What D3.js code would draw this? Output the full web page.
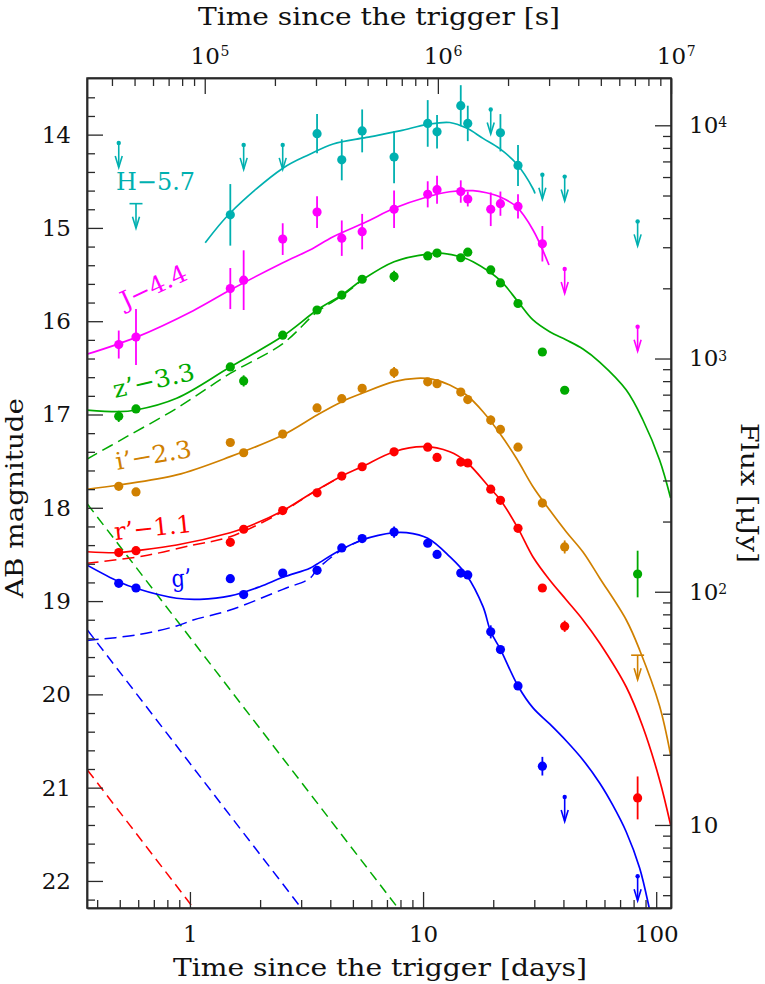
<!DOCTYPE html>
<html><head><meta charset="utf-8">
<script src="https://cdn.jsdelivr.net/npm/d3@7"></script>
<style>body{margin:0;background:#fff}</style>
</head><body><svg id="c" width="765" height="984"></svg>
<script>
// ---------------- DATA ----------------
// observed points: [days, AB mag, error]
const H_obs = [[1.49,14.86,0.33],[3.51,13.99,0.21],[4.48,14.27,0.22],[5.48,13.96,0.23],[7.51,14.24,0.28],[10.47,13.88,0.25],[11.48,13.97,0.18],[14.51,13.69,0.22],[15.55,13.88,0.19],[21.47,13.98,0.20],[25.54,14.33,0.22]];
const J_obs = [[0.495,16.25,0.15],[0.587,16.17,0.30],[1.49,15.65,0.22],[1.70,15.56,0.32],[2.50,15.12,0.17],[3.51,14.83,0.17],[4.48,15.11,0.19],[5.48,15.04,0.19],[7.51,14.80,0.20],[10.47,14.64,0.14],[11.48,14.59,0.15],[14.51,14.61,0.12],[15.55,14.69,0.08],[19.51,14.80,0.18],[21.47,14.74,0.13],[25.54,14.77,0.13],[32.49,15.17,0.19]];
const z_obs = [[0.495,17.02,0.06],[0.587,16.94,0.03],[1.49,16.49,0.03],[1.70,16.64,0.06],[2.50,16.15,0.03],[3.51,15.88,0.03],[4.48,15.72,0.03],[5.48,15.55,0.03],[7.51,15.52,0.06],[10.47,15.30,0.03],[11.48,15.27,0.03],[14.51,15.32,0.03],[15.55,15.26,0.03],[19.51,15.45,0.03],[21.47,15.59,0.03],[25.54,15.81,0.03],[32.49,16.33,0.03],[40.5,16.74,0.03],[83.24,18.71,0.25]];
const i_obs = [[0.495,17.77,0.04],[0.587,17.83,0.03],[1.49,17.30,0.03],[1.70,17.41,0.03],[2.50,17.21,0.03],[3.51,16.93,0.03],[4.48,16.83,0.03],[5.48,16.72,0.03],[7.51,16.55,0.06],[10.47,16.65,0.03],[11.48,16.67,0.03],[14.51,16.76,0.03],[15.55,16.84,0.03],[19.51,17.06,0.05],[21.47,17.16,0.03],[25.54,17.35,0.03],[32.49,17.95,0.03],[40.5,18.42,0.07]];
const r_obs = [[0.495,18.48,0.03],[0.587,18.46,0.03],[1.49,18.37,0.03],[1.70,18.23,0.03],[2.50,18.03,0.03],[3.51,17.84,0.03],[4.48,17.66,0.03],[5.48,17.56,0.03],[7.51,17.40,0.03],[10.47,17.35,0.03],[11.48,17.46,0.03],[14.51,17.51,0.03],[15.55,17.52,0.03],[19.51,17.80,0.03],[21.47,17.92,0.03],[25.54,18.22,0.03],[32.49,18.86,0.03],[40.5,19.27,0.06],[83.24,21.11,0.23]];
const g_obs = [[0.495,18.81,0.03],[0.587,18.86,0.03],[1.49,18.76,0.03],[1.70,18.93,0.03],[2.50,18.70,0.03],[3.51,18.67,0.03],[4.48,18.43,0.03],[5.48,18.33,0.03],[7.51,18.26,0.06],[10.47,18.38,0.03],[11.48,18.50,0.03],[14.51,18.70,0.04],[15.55,18.72,0.03],[19.51,19.33,0.07],[21.47,19.52,0.03],[25.54,19.91,0.04],[32.49,20.77,0.10]];

// upper limits: [days, AB mag, style (0 = dot, 1 = bar)]
const H_lim = [[0.495,14.09,0],[0.587,14.74,1],[1.70,14.11,0],[2.50,14.11,0],[19.51,13.73,0],[32.49,14.43,0],[40.5,14.45,0],[83.24,14.93,0]];
const J_lim = [[40.5,15.44,0],[83.24,16.06,0]];
const z_lim = [];
const i_lim = [[83.24,19.58,1]];
const r_lim = [];
const g_lim = [[40.5,21.10,0],[83.24,21.95,0]];

// model curves: [days, AB mag]
const H_fit = [[1.163,15.16],[1.488,14.84],[2.504,14.36],[3.268,14.21],[4.114,14.10],[5.719,14.03],[7.946,13.96],[10.47,13.89],[13.02,13.87],[15.35,13.93],[18.08,14.04],[21.32,14.15],[25.14,14.31],[29.62,14.58],[30.21,14.63]];
const J_fit = [[0.3607,16.355],[0.5868,16.173],[1.033,15.887],[1.488,15.666],[2.504,15.373],[3.268,15.237],[4.114,15.094],[5.719,14.934],[7.511,14.790],[10.47,14.666],[13.02,14.612],[16.38,14.601],[18.70,14.623],[21.32,14.666],[25.14,14.773],[29.62,15.022],[34.68,15.398]];
const z_fit = [[0.3607,16.952],[0.4948,16.970],[0.5868,16.952],[0.877,16.826],[1.488,16.491],[2.504,16.159],[3.513,15.880],[4.482,15.719],[5.476,15.558],[7.511,15.362],[10.47,15.280],[12.18,15.272],[14.51,15.309],[16.38,15.362],[21.32,15.558],[25.54,15.791],[29.62,15.987],[34.92,16.113],[41.18,16.201],[48.52,16.298],[57.20,16.438],[74.42,16.738],[87.70,17.059],[103.4,17.488],[115.3,17.895]];
const i_fit = [[0.3607,17.802],[0.4948,17.756],[0.877,17.648],[1.488,17.452],[2.504,17.220],[3.513,17.005],[4.482,16.863],[5.476,16.773],[7.511,16.648],[9.369,16.612],[11.04,16.623],[13.02,16.684],[15.35,16.791],[18.08,16.970],[21.32,17.201],[25.14,17.469],[29.62,17.774],[34.92,18.024],[41.18,18.259],[48.52,18.474],[57.20,18.752],[74.42,19.203],[84.9,19.524],[103.4,20.124],[115.3,20.650]];
const r_fit = [[0.3607,18.471],[0.4948,18.481],[0.5868,18.460],[0.877,18.399],[1.488,18.267],[1.699,18.220],[2.504,18.031],[3.268,17.855],[4.482,17.659],[5.476,17.559],[7.511,17.399],[10.0,17.345],[13.02,17.399],[15.35,17.509],[19.51,17.798],[21.47,17.916],[25.54,18.220],[29.62,18.527],[34.92,18.774],[41.18,18.988],[48.52,19.202],[57.20,19.449],[74.42,19.921],[87.70,20.349],[103.4,20.917],[115.3,21.400]];
const g_fit = [[0.3607,18.613],[0.4948,18.792],[0.5868,18.863],[0.877,18.970],[1.104,18.981],[1.488,18.945],[1.995,18.846],[2.504,18.745],[3.268,18.648],[3.513,18.602],[4.482,18.445],[5.476,18.345],[7.511,18.267],[8.489,18.267],[10.47,18.327],[13.02,18.524],[15.35,18.720],[18.08,19.060],[19.51,19.328],[21.47,19.517],[25.54,19.910],[29.62,20.145],[34.92,20.317],[41.18,20.500],[48.52,20.703],[57.20,20.950],[65.04,21.185],[74.42,21.475],[84.9,21.861],[93.7,22.31],[98.0,22.55]];

// rising (dashed) components
const z_rise = [[0.3607,17.48],[0.5354,17.238],[0.877,16.934],[1.488,16.56],[2.504,16.24],[3.513,15.90],[4.482,15.73],[5.476,15.56]];
const r_rise = [[0.3607,18.595],[0.6306,18.517],[1.033,18.399],[1.488,18.31],[2.504,18.04],[3.268,17.857],[4.482,17.66]];
const g_rise = [[0.3607,19.422],[0.5909,19.363],[0.877,19.267],[1.033,19.203],[1.488,19.096],[2.504,18.874],[3.268,18.756],[3.513,18.66],[4.482,18.45],[5.476,18.345]];
// declining power-law (dashed) components
const z_pl = [[0.30,17.69],[10,22.64]];
const r_pl = [[0.30,20.54],[2,23.22]];
const g_pl = [[0.30,19.04],[5,23.01]];

const bandLabels = ["H\u22125.7","J\u22124.4","z\u2019\u22123.3","i\u2019\u22122.3","r\u2019\u22121.1","g\u2019"];
const dayTicks = [1,10,100];
const secTicks = [1e5,1e6,1e7];
const magTicks = [14,15,16,17,18,19,20,21,22];
const fluxTicks = [10,100,1000,10000];

// ---------------- DRAWING ----------------
const FONT = '"DejaVu Serif", serif';
const AX = "#2a2a2a";
const M = {l:87, r:671, t:78, b:908};
const svg = d3.select("#c");

const x = d3.scaleLog().domain([0.3618,115.74]).range([M.l,M.r]);
const y = d3.scaleLinear().domain([13.393,22.29]).range([M.t,M.b]);
const xs = d3.scaleLog().domain(x.domain().map(d=>d*86400)).range(x.range());
const fluxOf = m => Math.pow(10,(23.9-m)/2.5);
const yf = d3.scaleLog().domain(y.domain().map(fluxOf)).range(y.range());

svg.append("defs").append("clipPath").attr("id","clip").append("rect")
  .attr("x",M.l).attr("y",M.t).attr("width",M.r-M.l).attr("height",M.b-M.t);

const colors = {H:"#00b0b0", J:"#ff00ff", z:"#00aa00", i:"#d08000", r:"#ff0000", g:"#0000ff"};
const series = [
  {k:"H", obs:H_obs, lim:H_lim, fit:H_fit, rise:null, pl:null},
  {k:"J", obs:J_obs, lim:J_lim, fit:J_fit, rise:null, pl:null},
  {k:"z", obs:z_obs, lim:z_lim, fit:z_fit, rise:z_rise, pl:z_pl},
  {k:"i", obs:i_obs, lim:i_lim, fit:i_fit, rise:null, pl:null},
  {k:"r", obs:r_obs, lim:r_lim, fit:r_fit, rise:r_rise, pl:r_pl},
  {k:"g", obs:g_obs, lim:g_lim, fit:g_fit, rise:g_rise, pl:g_pl}
];

const line = d3.line().x(d=>x(d[0])).y(d=>y(d[1])).curve(d3.curveCatmullRom.alpha(0.5));
const lineStraight = d3.line().x(d=>x(d[0])).y(d=>y(d[1]));

const plot = svg.append("g").attr("clip-path","url(#clip)");
series.forEach(s=>{
  const c = colors[s.k];
  if (s.pl) plot.append("path").attr("d",lineStraight(s.pl)).attr("fill","none").attr("stroke",c).attr("stroke-width",1.5).attr("stroke-dasharray","10,6");
  if (s.rise) plot.append("path").attr("d",line(s.rise)).attr("fill","none").attr("stroke",c).attr("stroke-width",1.5).attr("stroke-dasharray","12,6");
  plot.append("path").attr("d",line(s.fit)).attr("fill","none").attr("stroke",c).attr("stroke-width",1.7);
});

const pts = svg.append("g");
series.forEach(s=>{
  const c = colors[s.k];
  const g = pts.append("g");
  g.selectAll("line.err").data(s.obs).join("line").attr("class","err")
    .attr("x1",d=>x(d[0])).attr("x2",d=>x(d[0]))
    .attr("y1",d=>y(d[1]-d[2])).attr("y2",d=>y(d[1]+d[2]))
    .attr("stroke",c).attr("stroke-width",1.8);
  g.selectAll("circle").data(s.obs).join("circle")
    .attr("cx",d=>x(d[0])).attr("cy",d=>y(d[1])).attr("r",4.6).attr("fill",c);
  s.lim.forEach(d=>{
    const px = x(d[0]), py = y(d[1]);
    if (d[2]===1) g.append("line").attr("x1",px-6.5).attr("x2",px+6.5).attr("y1",py).attr("y2",py).attr("stroke",c).attr("stroke-width",1.6);
    else g.append("circle").attr("cx",px).attr("cy",py).attr("r",2.2).attr("fill",c);
    g.append("line").attr("x1",px).attr("x2",px).attr("y1",py).attr("y2",py+24).attr("stroke",c).attr("stroke-width",1.6);
    g.append("path").attr("d",`M${px-3.5},${py+13}L${px},${py+24.5}L${px+3.5},${py+13}`)
      .attr("fill","none").attr("stroke",c).attr("stroke-width",1.6);
  });
});

// band labels (positions in data coordinates)
const labelPos = [
  {t:0.4818, m:14.594, rot:0,   len:79},
  {t:0.5265, m:15.869, rot:-25, len:71},
  {t:0.4771, m:16.823, rot:-13, len:83},
  {t:0.4866, m:17.595, rot:-10, len:77},
  {t:0.4771, m:18.345, rot:-6,  len:78},
  {t:0.837,  m:18.849, rot:-4,  len:20}
];
series.forEach((s,i)=>{
  const p = labelPos[i], px = x(p.t), py = y(p.m);
  svg.append("text").attr("x",px).attr("y",py)
    .attr("transform",`rotate(${p.rot},${px},${py})`)
    .attr("font-family",FONT).attr("font-size",24).attr("fill",colors[s.k])
    .attr("textLength",p.len).attr("lengthAdjust","spacingAndGlyphs")
    .text(bandLabels[i]);
});

// ---------- axes ----------
function styleAxis(g){
  g.selectAll("path.domain").attr("stroke",AX).attr("stroke-width",1.5);
  g.selectAll(".tick line").attr("stroke",AX).attr("stroke-width",1.3);
  g.selectAll("text").attr("font-family",FONT).attr("font-size",23).attr("fill","#111");
}
const minorDays = [];
[0.1,1,10].forEach(b=>{for(let k=2;k<=9;k++){const v=b*k; if(v>x.domain()[0]&&v<x.domain()[1]) minorDays.push(v);}});
const minorSec = [];
[1e4,1e5,1e6].forEach(b=>{for(let k=2;k<=9;k++){const v=b*k; if(v>xs.domain()[0]&&v<xs.domain()[1]) minorSec.push(v);}});
const minorMag = d3.range(13.6,22.25,0.2).filter(v=>Math.abs(v-Math.round(v))>0.05);
const minorFlux = [];
[1,10,100,1000].forEach(b=>{for(let k=2;k<=9;k++){const v=b*k; if(v<yf.domain()[0]&&v>yf.domain()[1]) minorFlux.push(v);}});

// bottom
svg.append("g").attr("transform",`translate(0,${M.b})`)
  .call(d3.axisBottom(x).tickValues(minorDays).tickSize(-8).tickSizeOuter(0).tickFormat("")).call(styleAxis);
svg.append("g").attr("transform",`translate(0,${M.b})`)
  .call(d3.axisBottom(x).tickValues(dayTicks).tickSize(-16).tickSizeOuter(0).tickPadding(18).tickFormat(d3.format("d"))).call(styleAxis);
// top
svg.append("g").attr("transform",`translate(0,${M.t})`)
  .call(d3.axisTop(xs).tickValues(minorSec).tickSize(-8).tickSizeOuter(0).tickFormat("")).call(styleAxis);
const topAx = svg.append("g").attr("transform",`translate(0,${M.t})`)
  .call(d3.axisTop(xs).tickValues(secTicks).tickSize(-16).tickSizeOuter(0).tickPadding(14).tickFormat(()=>"10")).call(styleAxis);
topAx.selectAll(".tick").each(function(d){
  const t = d3.select(this).select("text");
  const w = t.node().getComputedTextLength();
  d3.select(this).append("text").attr("x",w/2+0.5).attr("y",-22)
    .attr("font-family",FONT).attr("font-size",14).attr("fill","#111").attr("text-anchor","start")
    .text(Math.round(Math.log10(d)));
});
// left
svg.append("g").attr("transform",`translate(${M.l},0)`)
  .call(d3.axisLeft(y).tickValues(minorMag).tickSize(-8).tickSizeOuter(0).tickFormat("")).call(styleAxis);
svg.append("g").attr("transform",`translate(${M.l},0)`)
  .call(d3.axisLeft(y).tickValues(magTicks).tickSize(-16).tickSizeOuter(0).tickPadding(16).tickFormat(d3.format("d"))).call(styleAxis);
// right
svg.append("g").attr("transform",`translate(${M.r},0)`)
  .call(d3.axisRight(yf).tickValues(minorFlux).tickSize(-8).tickSizeOuter(0).tickFormat("")).call(styleAxis);
const rAx = svg.append("g").attr("transform",`translate(${M.r},0)`)
  .call(d3.axisRight(yf).tickValues(fluxTicks).tickSize(-16).tickSizeOuter(0).tickPadding(18).tickFormat(()=>"10")).call(styleAxis);
rAx.selectAll(".tick text").each(function(d){
  const e = Math.round(Math.log10(d));
  if (e>1) d3.select(this).append("tspan").attr("dy","-0.42em").attr("font-size",14).text(e);
});

// frame
svg.append("rect").attr("x",M.l).attr("y",M.t).attr("width",M.r-M.l).attr("height",M.b-M.t)
  .attr("fill","none").attr("stroke",AX).attr("stroke-width",1.5);

// titles
svg.append("text").attr("x",379).attr("y",25).attr("text-anchor","middle")
  .attr("font-family",FONT).attr("font-size",24).attr("fill","#111")
  .attr("textLength",362).attr("lengthAdjust","spacingAndGlyphs").text("Time since the trigger [s]");
svg.append("text").attr("x",380).attr("y",976).attr("text-anchor","middle")
  .attr("font-family",FONT).attr("font-size",24).attr("fill","#111")
  .attr("textLength",414).attr("lengthAdjust","spacingAndGlyphs").text("Time since the trigger [days]");
svg.append("text").attr("transform","translate(23,498) rotate(-90)").attr("text-anchor","middle")
  .attr("font-family",FONT).attr("font-size",24).attr("fill","#111")
  .attr("textLength",200).attr("lengthAdjust","spacingAndGlyphs").text("AB magnitude");
svg.append("text").attr("transform","translate(741,493) rotate(90)").attr("text-anchor","middle")
  .attr("font-family",FONT).attr("font-size",24).attr("fill","#111")
  .attr("textLength",140).attr("lengthAdjust","spacingAndGlyphs").text("Flux [\u03bcJy]");
</script>
</body></html>
